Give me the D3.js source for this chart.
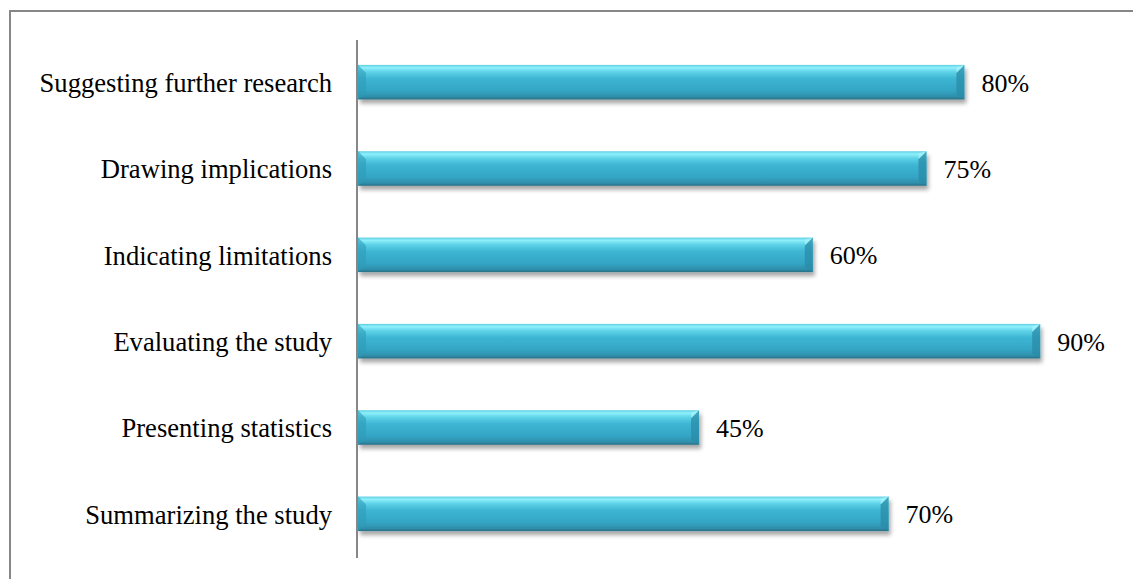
<!DOCTYPE html>
<html><head><meta charset="utf-8">
<script src="https://cdn.jsdelivr.net/npm/d3@7"></script>
<style>body{margin:0;background:#fff}svg{display:block}text{font-family:'Liberation Serif','Times New Roman',serif}</style>
</head><body>
<script>
const categories = ["Suggesting further research","Drawing implications","Indicating limitations","Evaluating the study","Presenting statistics","Summarizing the study"];
const values = [80, 75, 60, 90, 45, 70];
const valueLabels = ["80%","75%","60%","90%","45%","70%"];

const W = 1133, H = 579;
const svg = d3.select("body").append("svg").attr("width", W).attr("height", H);
const defs = svg.append("defs");
const g1 = defs.append("linearGradient").attr("id","barGrad").attr("x1",0).attr("y1",0).attr("x2",0).attr("y2",1);
[[0,"#5fcfe3"],[0.08,"#8ff0fb"],[0.2,"#5fd3e8"],[0.4,"#3db5d3"],[0.75,"#34a5c4"],[0.92,"#2e8fab"],[1,"#2a6f85"]]
  .forEach(([o,c])=>g1.append("stop").attr("offset",o).attr("stop-color",c));
const f = defs.append("filter").attr("id","shadow").attr("x","-5%").attr("y","-30%").attr("width","110%").attr("height","180%");
f.append("feGaussianBlur").attr("in","SourceAlpha").attr("stdDeviation",2.2).attr("result","b");
f.append("feOffset").attr("in","b").attr("dx",2).attr("dy",4).attr("result","o");
f.append("feComponentTransfer").attr("in","o").attr("result","o2").append("feFuncA").attr("type","linear").attr("slope",0.35);
const m = f.append("feMerge"); m.append("feMergeNode").attr("in","o2"); m.append("feMergeNode").attr("in","SourceGraphic");

svg.append("rect").attr("x",10).attr("y",11).attr("width",W).attr("height",H).attr("fill","none").attr("stroke","#878787").attr("stroke-width",2);

const x0 = 358;
const x = d3.scaleLinear().domain([0,100]).range([x0, x0 + 758]);
const y = d3.scaleBand().domain(categories).range([40, 558]).paddingInner(0.6).paddingOuter(0.3);

const bars = svg.append("g").selectAll("g").data(categories).join("g");
bars.append("rect")
  .attr("x", x(0)).attr("y", d=>y(d)-1).attr("width", (d,i)=>x(values[i])-x(0)).attr("height", y.bandwidth())
  .attr("fill","url(#barGrad)").attr("filter","url(#shadow)");
bars.append("path").attr("d", d=>{const t=y(d)-1, b=t+y.bandwidth(); return `M${x(0)},${t} L${x(0)+8},${t+8} L${x(0)+8},${b-6} L${x(0)},${b} Z`;})
  .attr("fill","#2f9bb8").attr("opacity",0.6);
bars.append("path").attr("d", (d,i)=>{const t=y(d)-1, b=t+y.bandwidth(), r=x(values[i]); return `M${r},${t} L${r-8},${t+8} L${r-8},${b-5} L${r},${b} Z`;})
  .attr("fill","#2a8ba7").attr("opacity",0.75);
bars.append("path").attr("d", (d,i)=>{const t=y(d)-1, r=x(values[i]); return `M${r},${t} L${r-8},${t+8} L${r-8},${t+2}`;})
  .attr("fill","#b0f4fb").attr("opacity",0.6);

svg.append("line").attr("x1",357).attr("x2",357).attr("y1",40).attr("y2",558).attr("stroke","#878787").attr("stroke-width",2);

svg.append("g").selectAll("text").data(categories).join("text")
  .attr("x", 332).attr("y", d=>y(d)+y.bandwidth()/2).attr("dy","0.33em")
  .attr("text-anchor","end").attr("font-size",26.6).attr("fill","#000")
  .text(d=>d);
svg.append("g").selectAll("text").data(categories).join("text")
  .attr("x", (d,i)=>x(values[i])+17).attr("y", d=>y(d)+y.bandwidth()/2).attr("dy","0.33em")
  .attr("font-size",26).attr("fill","#000")
  .text((d,i)=>valueLabels[i]);
</script>
</body></html>
